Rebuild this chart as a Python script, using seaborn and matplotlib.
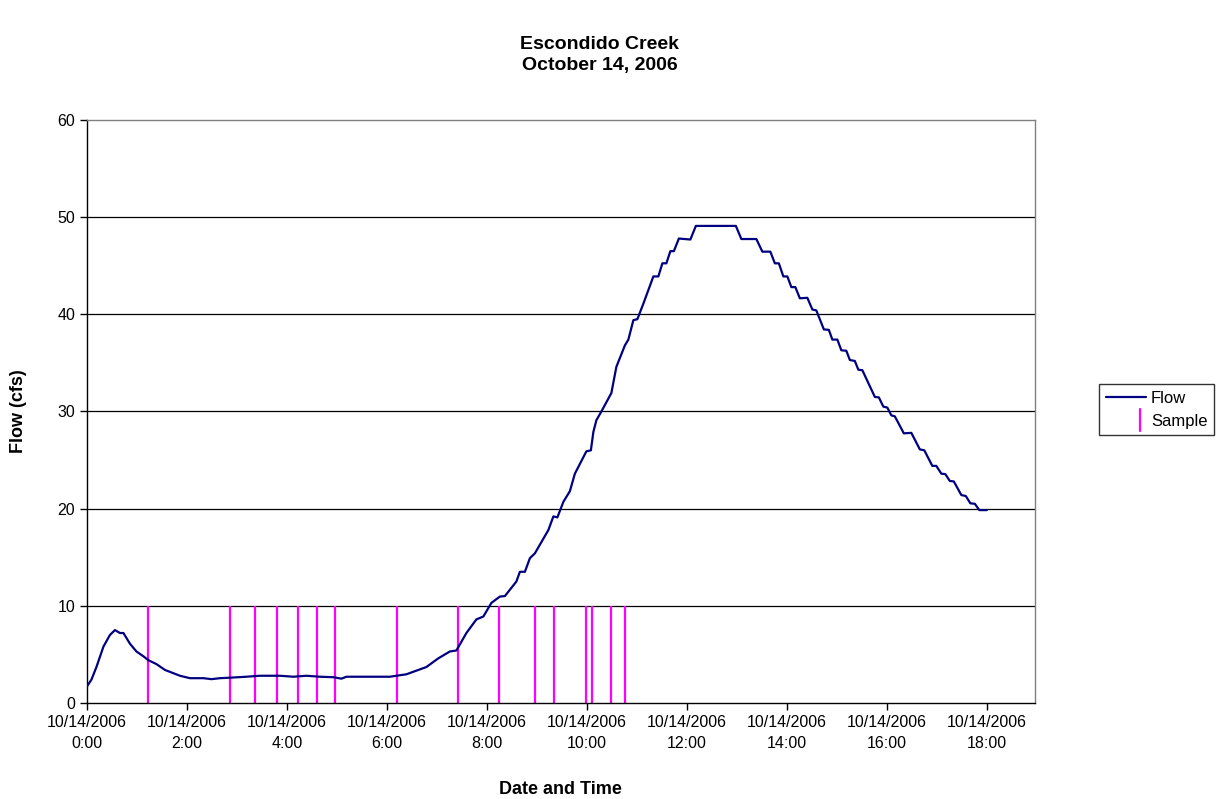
import matplotlib
matplotlib.use("Agg")
import matplotlib.pyplot as plt
import seaborn as sns
import pandas as pd
from matplotlib.lines import Line2D
from matplotlib.legend_handler import HandlerBase

# ---- data (hours after 10/14/2006 0:00, flow in cfs) ----
flow_hours = [0.0, 0.09, 0.19, 0.33, 0.46, 0.56, 0.66, 0.73, 0.86, 0.99, 1.13, 1.23, 1.39,
              1.56, 1.86, 2.06, 2.33, 2.49, 2.66, 2.86, 3.19, 3.46, 3.86, 4.13, 4.39, 4.66,
              4.93, 5.09, 5.19, 6.06, 6.19, 6.39, 6.79, 7.03, 7.26, 7.39, 7.59, 7.79, 7.93,
              8.09, 8.26, 8.36, 8.59, 8.66, 8.76, 8.86, 8.96, 9.23, 9.33, 9.41, 9.53, 9.66,
              9.76, 9.99, 10.08, 10.13, 10.19, 10.29, 10.49, 10.59, 10.76, 10.83, 10.93,
              11.01, 11.13, 11.33, 11.43, 11.51, 11.59, 11.67, 11.74, 11.84, 12.07, 12.18,
              12.98, 13.09, 13.39, 13.51, 13.67, 13.76, 13.84, 13.93, 14.01, 14.09, 14.17,
              14.26, 14.41, 14.51, 14.59, 14.74, 14.84, 14.91, 15.01, 15.09, 15.19, 15.26,
              15.36, 15.43, 15.51, 15.76, 15.84, 15.93, 16.01, 16.09, 16.16, 16.34, 16.49,
              16.66, 16.75, 16.91, 16.99, 17.09, 17.17, 17.26, 17.34, 17.49, 17.58, 17.67,
              17.76, 17.85, 18.0]
flow_cfs = [1.7, 2.4, 3.7, 5.8, 7.0, 7.5, 7.2, 7.2, 6.1, 5.3, 4.8, 4.4, 4.0,
            3.4, 2.8, 2.55, 2.55, 2.45, 2.55, 2.6, 2.7, 2.8, 2.8, 2.7, 2.8, 2.7,
            2.65, 2.5, 2.7, 2.7, 2.8, 2.95, 3.7, 4.6, 5.3, 5.4, 7.2, 8.6, 8.9,
            10.3, 10.95, 11.0, 12.5, 13.5, 13.5, 14.9, 15.4, 17.8, 19.2, 19.1, 20.7, 21.8,
            23.6, 25.9, 26.0, 27.9, 29.1, 30.0, 31.9, 34.6, 36.8, 37.4, 39.4,
            39.5, 41.1, 43.9, 43.9, 45.25, 45.25, 46.5, 46.5, 47.8, 47.7, 49.1,
            49.1, 47.75, 47.75, 46.45, 46.45, 45.25, 45.25, 43.9, 43.9, 42.8, 42.8,
            41.65, 41.7, 40.5, 40.4, 38.45, 38.4, 37.4, 37.4, 36.3, 36.25, 35.3,
            35.2, 34.3, 34.25, 31.5, 31.45, 30.5, 30.4, 29.6, 29.5, 27.75, 27.8,
            26.1, 26.0, 24.4, 24.4, 23.6, 23.55, 22.85, 22.8, 21.4, 21.3, 20.55,
            20.5, 19.85, 19.85]
sample_hours = [1.23, 2.87, 3.37, 3.80, 4.23, 4.61, 4.96, 6.21, 7.43, 8.25, 8.97,
                9.35, 9.99, 10.11, 10.48, 10.76]
sample_top = 10
tick_hours = [0, 2, 4, 6, 8, 10, 12, 14, 16, 18]
tick_labels = ["10/14/2006\n%d:00" % h for h in tick_hours]
y_ticks = [0, 10, 20, 30, 40, 50, 60]

sns.set_theme(style="white")
plt.rcParams["font.family"] = ["Liberation Sans", "DejaVu Sans"]
plt.rcParams["text.color"] = "black"
plt.rcParams["axes.labelcolor"] = "black"
plt.rcParams["xtick.color"] = "black"
plt.rcParams["ytick.color"] = "black"


class VerticalLineHandler(HandlerBase):
    def create_artists(self, legend, orig_handle, xdescent, ydescent, width, height,
                       fontsize, trans):
        x = width * 0.84 - xdescent
        line = Line2D([x, x], [-ydescent - height * 0.45, height * 1.45 - ydescent],
                      color=orig_handle.get_color(), linewidth=1.6, transform=trans)
        return [line]


fig = plt.figure(figsize=(12.16, 7.99), dpi=100)
ax = fig.add_axes([0.0715, 0.1202, 0.7795, 0.7296])

df = pd.DataFrame({"hours": flow_hours, "flow": flow_cfs})
ax.vlines(sample_hours, 0, sample_top, colors="#FF00FF", linewidth=1.6, zorder=2)
sns.lineplot(data=df, x="hours", y="flow", ax=ax, color="#000080", linewidth=1.6,
             zorder=3, legend=False)

ax.set_xlim(0, 18.96)
ax.set_ylim(0, 60)
ax.set_yticks(y_ticks)
ax.set_xticks(tick_hours)
ax.set_xticklabels(tick_labels, fontsize=11.5, linespacing=1.5)
ax.tick_params(axis="y", labelsize=11.5, length=5, direction="out", colors="black",
               left=True, width=1)
ax.tick_params(axis="x", length=5, direction="out", colors="black", bottom=True, width=1)
for y in y_ticks[1:-1]:
    ax.axhline(y, color="black", linewidth=0.9, zorder=1)
for side in ["left", "bottom"]:
    ax.spines[side].set_color("black")
    ax.spines[side].set_linewidth(1.0)
for side in ["top", "right"]:
    ax.spines[side].set_color("#808080")
    ax.spines[side].set_linewidth(1.0)
ax.grid(False)

ax.set_xlabel("Date and Time", fontsize=13, fontweight="bold", labelpad=22, color="black")
ax.set_ylabel("Flow (cfs)", fontsize=13, fontweight="bold", labelpad=22, color="black")

fig.text(0.493, 0.955, "Escondido Creek\nOctober 14, 2006", ha="center", va="top",
         fontsize=14, fontweight="bold", linespacing=1.3, color="black")

flow_handle = Line2D([], [], color="#000080", linewidth=1.6)
sample_handle = Line2D([], [], color="#FF00FF", linewidth=1.6)
leg = fig.legend([flow_handle, sample_handle], ["Flow", "Sample"], loc="center right",
                 bbox_to_anchor=(0.9985, 0.487), frameon=True, fancybox=False,
                 fontsize=12, handlelength=2.4, handletextpad=0.3,
                 borderpad=0.4, labelspacing=0.45, borderaxespad=0,
                 handler_map={sample_handle: VerticalLineHandler()})
leg.get_frame().set_edgecolor("black")
leg.get_frame().set_linewidth(1.0)
for t in leg.get_texts():
    t.set_color("black")

fig.savefig("out.png", dpi=100, facecolor="white")
